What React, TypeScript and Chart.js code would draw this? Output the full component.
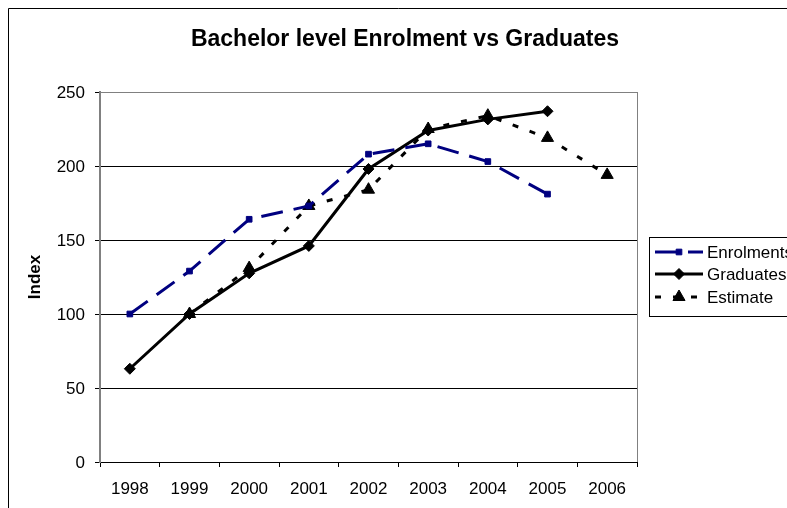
import React, { useEffect, useRef } from 'react';
import { Chart, registerables } from 'chart.js';

Chart.register(...registerables);

const categories = ['1998', '1999', '2000', '2001', '2002', '2003', '2004', '2005', '2006'];
const enrolments = [100, 129, 164, 173, 208, 215, 203, 181, null];
const graduates = [63, 100, 127.5, 146, 198, 224, 231.5, 237, null];
const estimate = [null, 100, 131, 173, 184, 225, 234, 219, 194];
const seriesNames = ['Enrolments', 'Graduates', 'Estimate'];
const titleText = 'Bachelor level Enrolment vs Graduates';
const yAxisTitle = 'Index';
const yMin = 0;
const yMax = 250;
const yStep = 50;

const FONT = '"Liberation Sans", Arial, Helvetica, sans-serif';

function drawMarker(ctx: CanvasRenderingContext2D, style: string, x: number, y: number, r: number, color: string) {
  ctx.save();
  ctx.fillStyle = color;
  ctx.strokeStyle = color;
  ctx.lineWidth = 1;
  ctx.setLineDash([]);
  ctx.beginPath();
  if (style === 'rect') {
    const s = Math.SQRT1_2 * r;
    ctx.rect(x - s, y - s, 2 * s, 2 * s);
  } else if (style === 'rectRot') {
    ctx.moveTo(x - r, y);
    ctx.lineTo(x, y - r);
    ctx.lineTo(x + r, y);
    ctx.lineTo(x, y + r);
    ctx.closePath();
  } else {
    let rad = 0;
    ctx.moveTo(x + Math.sin(rad) * r, y - Math.cos(rad) * r);
    rad += (2 * Math.PI) / 3;
    ctx.lineTo(x + Math.sin(rad) * r, y - Math.cos(rad) * r);
    rad += (2 * Math.PI) / 3;
    ctx.lineTo(x + Math.sin(rad) * r, y - Math.cos(rad) * r);
    ctx.closePath();
  }
  ctx.fill();
  ctx.stroke();
  ctx.restore();
}

export default function App() {
  const ref = useRef<HTMLCanvasElement>(null);

  useEffect(() => {
    const canvas = ref.current;
    if (!canvas) return;

    const decor = {
      id: 'decor',
      afterDraw(chart: any) {
        const ctx: CanvasRenderingContext2D = chart.ctx;
        const ca = chart.chartArea;
        ctx.save();
        // outer frame (continues beyond the visible window)
        ctx.strokeStyle = '#000';
        ctx.lineWidth = 1;
        ctx.setLineDash([]);
        ctx.beginPath();
        ctx.moveTo(8.5, 600);
        ctx.lineTo(8.5, 8.5);
        ctx.lineTo(900, 8.5);
        ctx.stroke();
        // right border of plot area
        ctx.strokeStyle = '#808080';
        ctx.beginPath();
        ctx.moveTo(ca.right + 0.5, ca.top);
        ctx.lineTo(ca.right + 0.5, ca.bottom);
        ctx.stroke();
        // title
        ctx.fillStyle = '#000';
        ctx.font = `bold 23px ${FONT}`;
        ctx.textAlign = 'center';
        ctx.textBaseline = 'alphabetic';
        ctx.fillText(titleText, 405, 46);
        // legend
        ctx.strokeStyle = '#000';
        ctx.lineWidth = 1;
        ctx.strokeRect(649.5, 237.5, 300, 79);
        const rows = [252, 274, 297];
        chart.data.datasets.forEach((ds: any, i: number) => {
          const y = rows[i];
          ctx.save();
          ctx.strokeStyle = ds.borderColor;
          ctx.lineWidth = ds.borderWidth;
          ctx.setLineDash(ds.borderDash || []);
          ctx.beginPath();
          ctx.moveTo(655, y);
          ctx.lineTo(703, y);
          ctx.stroke();
          ctx.restore();
          drawMarker(ctx, ds.pointStyle, 679, y, ds.pointRadius, ds.pointBackgroundColor);
          ctx.fillStyle = '#000';
          ctx.font = `17px ${FONT}`;
          ctx.textAlign = 'left';
          ctx.textBaseline = 'middle';
          ctx.fillText(ds.label, 707, y + 1);
        });
        ctx.restore();
      },
    };

    const chart = new Chart(canvas, {
      type: 'line',
      data: {
        labels: categories,
        datasets: [
          {
            label: seriesNames[0],
            data: enrolments,
            borderColor: '#000080',
            backgroundColor: '#000080',
            borderWidth: 3,
            borderDash: [22, 11],
            pointStyle: 'rect',
            pointRadius: 4,
            pointBackgroundColor: '#000080',
            pointBorderColor: '#000080',
            pointBorderWidth: 1,
            tension: 0,
            fill: false,
          },
          {
            label: seriesNames[1],
            data: graduates,
            borderColor: '#000',
            backgroundColor: '#000',
            borderWidth: 3,
            borderDash: [],
            pointStyle: 'rectRot',
            pointRadius: 5.5,
            pointBackgroundColor: '#000',
            pointBorderColor: '#000',
            pointBorderWidth: 1,
            tension: 0,
            fill: false,
          },
          {
            label: seriesNames[2],
            data: estimate,
            borderColor: '#000',
            backgroundColor: '#000',
            borderWidth: 3,
            borderDash: [6, 12],
            pointStyle: 'triangle',
            pointRadius: 7,
            pointBackgroundColor: '#000',
            pointBorderColor: '#000',
            pointBorderWidth: 1,
            tension: 0,
            fill: false,
          },
        ],
      },
      options: {
        responsive: false,
        animation: false,
        layout: { padding: { left: 0, top: 92, right: 150, bottom: 0 } },
        plugins: {
          legend: { display: false },
          title: { display: false },
          tooltip: { enabled: false },
        },
        scales: {
          x: {
            offset: true,
            grid: {
              offset: true,
              drawOnChartArea: false,
              drawTicks: true,
              tickLength: 5,
              color: '#000',
              tickColor: '#000',
            },
            border: { color: '#000', width: 1 },
            ticks: {
              padding: 12,
              color: '#000',
              font: { family: FONT, size: 17 },
              maxRotation: 0,
              autoSkip: false,
            },
            afterFit: (s: any) => {
              s.height = 46;
            },
          },
          y: {
            min: yMin,
            max: yMax,
            ticks: {
              stepSize: yStep,
              padding: 10,
              labelOffset: 1.5,
              color: '#000',
              font: { family: FONT, size: 17 },
            },
            grid: {
              color: (c: any) => (c.tick && c.tick.value === yMax ? '#808080' : '#000'),
              lineWidth: 1,
              tickLength: 5,
              tickColor: '#000',
            },
            border: { color: '#808080', width: 2 },
            title: {
              display: true,
              text: yAxisTitle,
              color: '#000',
              font: { family: FONT, size: 17, weight: 'bold' },
              padding: { top: 25, bottom: 0 },
            },
            afterFit: (s: any) => {
              s.width = 100;
            },
          },
        },
      },
      plugins: [decor],
    });

    return () => {
      chart.destroy();
    };
  }, []);

  return (
    <div style={{ position: 'fixed', left: 0, top: 0, width: 787, height: 508, overflow: 'hidden', background: '#fff' }}>
      <canvas ref={ref} width={787} height={508} style={{ display: 'block' }} />
    </div>
  );
}
